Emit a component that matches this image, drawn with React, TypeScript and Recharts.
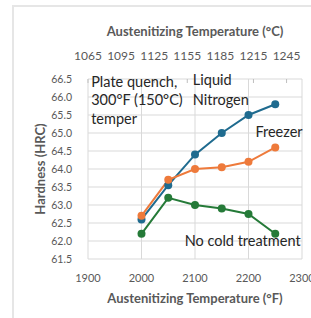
import React from "react";

// Library
import {
  LineChart,
  XAxis,
  YAxis,
  Line,
  CartesianGrid,
  ReferenceDot,
} from "recharts";

const tempsF = [2000, 2050, 2100, 2150, 2200, 2250];
const liquidNitrogen = [62.6, 63.55, 64.4, 65.0, 65.5, 65.8];
const freezer = [62.7, 63.7, 64.0, 64.05, 64.2, 64.6];
const noColdTreatment = [62.2, 63.2, 63.0, 62.9, 62.75, 62.2];

const fTicks = [1900, 2000, 2100, 2200, 2300];
const cTicks = [1065, 1095, 1125, 1155, 1185, 1215, 1245];
const hrcTicks = [61.5, 62.0, 62.5, 63.0, 63.5, 64.0, 64.5, 65.0, 65.5, 66.0, 66.5];

const notes = [
  { text: "Plate quench,", x: 1906, y: 66.42, anchor: "start" },
  { text: "300°F (150°C)", x: 1906, y: 65.94, anchor: "start" },
  { text: "temper", x: 1906, y: 65.39, anchor: "start" },
  { text: "Liquid", x: 2096, y: 66.5, anchor: "start" },
  { text: "Nitrogen", x: 2096, y: 65.94, anchor: "start" },
  { text: "Freezer", x: 2257, y: 65.03, anchor: "middle" },
  { text: "No cold treatment", x: 2189, y: 62.01, anchor: "middle" },
];

const data = tempsF.map((t, i) => ({
  tempF: t,
  ln: liquidNitrogen[i],
  fr: freezer[i],
  nc: noColdTreatment[i],
}));

const font = "Lato, 'Open Sans', sans-serif";
const tickStyle = { fontSize: 11, fill: "#595959", fontFamily: font };
const titleStyle = { fontSize: 13, fill: "#595959", fontFamily: font, fontWeight: 700 };

const series = [
  { key: "ln", color: "#1f6b8f" },
  { key: "fr", color: "#ee7a3b" },
  { key: "nc", color: "#257a38" },
];

function App() {
  return (
    <div style={{ position: "absolute", left: 0, top: 0, width: 311, height: 318, background: "#fff" }}>
      <div
        style={{
          position: "absolute",
          left: 12,
          top: 5,
          width: 320,
          height: 330,
          border: "2px solid #e6e6e6",
          boxSizing: "border-box",
        }}
      />
      <LineChart
        width={311}
        height={318}
        data={data}
        margin={{ top: 19, right: 9, bottom: 9, left: 48 }}
        style={{ position: "absolute", left: 0, top: 0, overflow: "visible" }}
      >
        <CartesianGrid xAxisId="f" stroke="#d9d9d9" strokeWidth={1} />
        <XAxis
          xAxisId="f"
          dataKey="tempF"
          type="number"
          domain={[1900, 2300]}
          ticks={fTicks}
          allowDataOverflow
          interval={0}
          height={50}
          axisLine={false}
          tickLine={false}
          tickMargin={9}
          tick={tickStyle}
          label={{
            value: "Austenitizing Temperature (°F)",
            position: "insideBottom",
            offset: 6,
            style: titleStyle,
          }}
        />
        <XAxis
          xAxisId="c"
          dataKey="tempF"
          orientation="top"
          type="number"
          domain={[1065, 1259]}
          ticks={cTicks}
          allowDataOverflow
          interval={0}
          height={60}
          axisLine={false}
          tickLine={{ stroke: "#bfbfbf" }}
          tickSize={-4}
          tickMargin={23}
          tick={{ ...tickStyle, fontSize: 12 }}
          label={{
            value: "Austenitizing Temperature (°C)",
            position: "insideTop",
            offset: 8,
            style: titleStyle,
          }}
        />
        <YAxis
          domain={[61.5, 66.5]}
          ticks={hrcTicks}
          interval={0}
          width={40}
          axisLine={false}
          tickLine={false}
          tickMargin={10}
          tick={{ ...tickStyle, fontSize: 10.5 }}
          tickFormatter={(v: number) => v.toFixed(1)}
          label={{
            content: ({ viewBox }: any) => {
              const cx = viewBox.x - 8;
              const cy = viewBox.y + viewBox.height / 2;
              return (
                <text
                  x={cx}
                  y={cy}
                  transform={`rotate(-90 ${cx} ${cy})`}
                  textAnchor="middle"
                  dominantBaseline="central"
                  style={titleStyle}
                >
                  Hardness (HRC)
                </text>
              );
            },
          }}
        />
        {/* invisible helper so the °C axis gets registered */}
        <Line
          xAxisId="c"
          dataKey="ln"
          stroke="none"
          dot={false}
          activeDot={false}
          legendType="none"
          isAnimationActive={false}
        />
        {series.map((s) => (
          <Line
            key={s.key}
            xAxisId="f"
            dataKey={s.key}
            stroke={s.color}
            strokeWidth={2}
            dot={{ r: 4, fill: s.color, stroke: s.color, strokeWidth: 0 }}
            isAnimationActive={false}
          />
        ))}
        {notes.map((n, i) => (
          <ReferenceDot
            key={i}
            xAxisId="f"
            x={n.x}
            y={n.y}
            r={0}
            ifOverflow="visible"
            fill="none"
            stroke="none"
            label={{
              content: ({ viewBox }: any) => (
                <text
                  x={viewBox.x + (viewBox.width || 0) / 2}
                  y={viewBox.y + (viewBox.height || 0) / 2}
                  textAnchor={n.anchor as any}
                  dominantBaseline="central"
                  style={{ fontSize: 14.5, fill: "#262626", fontFamily: font }}
                >
                  {n.text}
                </text>
              ),
            }}
          />
        ))}
      </LineChart>
    </div>
  );
}

export default App;
